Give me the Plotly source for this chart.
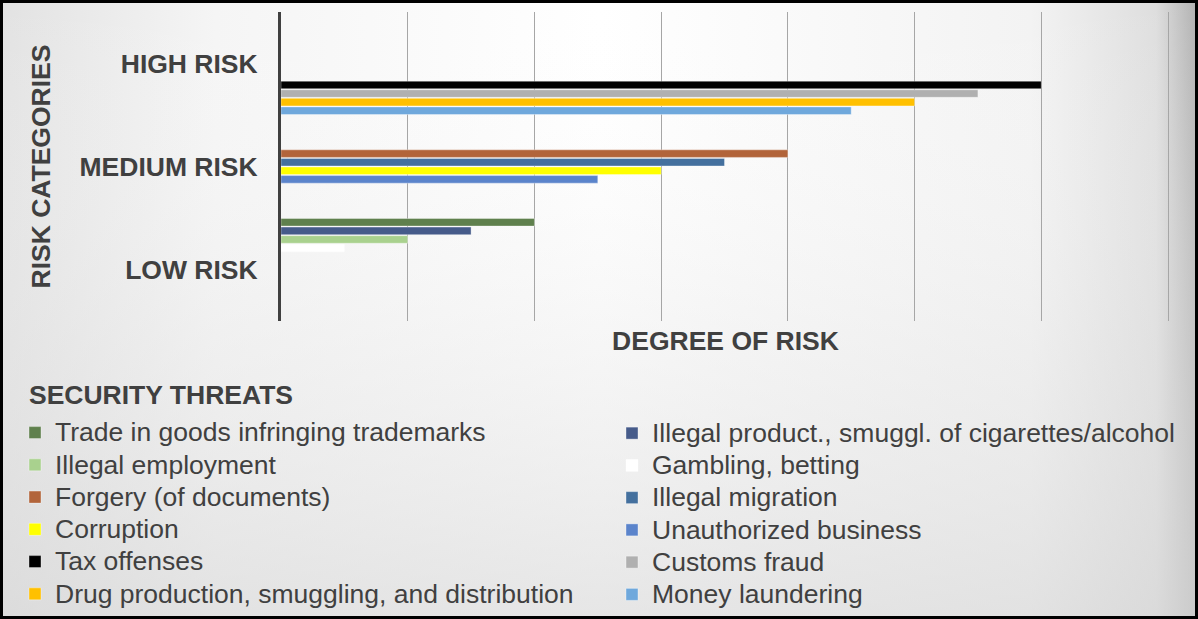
import base64
import plotly.graph_objects as go

# ---------------- data ----------------
categories = ["LOW RISK", "MEDIUM RISK", "HIGH RISK"]
threats = [
    "Trade in goods infringing trademarks",
    "Illegal product., smuggl. of cigarettes/alcohol",
    "Illegal employment",
    "Gambling, betting",
    "Forgery (of documents)",
    "Illegal migration",
    "Corruption",
    "Unauthorized business",
    "Tax offenses",
    "Customs fraud",
    "Drug production, smuggling, and distribution",
    "Money laundering",
]
risk_category = [
    "LOW RISK", "LOW RISK", "LOW RISK", "LOW RISK",
    "MEDIUM RISK", "MEDIUM RISK", "MEDIUM RISK", "MEDIUM RISK",
    "HIGH RISK", "HIGH RISK", "HIGH RISK", "HIGH RISK",
]
degree = [2, 1.5, 1, 0.5, 4, 3.5, 3, 2.5, 6, 5.5, 5, 4.5]
x_max = 7
colors = [
    "#5F804D", "#465B8A", "#A9D18E", "#FFFFFF",
    "#B2643A", "#44709E", "#FFFF00", "#5B84CB",
    "#000000", "#B0B0B0", "#FFC000", "#6FA8DC",
]

FONT = "Liberation Sans, Arial, sans-serif"
TXT = "#404040"
W, H = 1198, 619
L, R, T, B = 281, 28, 12, 298
PW, PH = W - L - R, H - T - B
# extend range by 2px so the last gridline (at x_max) is kept
x_hi = x_max * PW / (PW - 2)

fig = go.Figure()
# add in reverse so first series sits at the top of each category band
for i in reversed(range(len(threats))):
    fig.add_trace(go.Bar(
        x=[degree[i]], y=[risk_category[i]], orientation="h",
        name='<span style="font-size:26.5px">' + threats[i] + "</span>",
        marker=dict(color=colors[i], line=dict(color="rgba(255,255,255,0.45)", width=0.8)),
        legend="legend" if i % 2 == 0 else "legend2",
        legendrank=i,
        hoverinfo="skip",
    ))

# background (gradient panel with black frame)
svg = f'''<svg xmlns="http://www.w3.org/2000/svg" width="{W}" height="{H}" viewBox="0 0 {W} {H}">
<defs>
<linearGradient id="h" x1="0" y1="0" x2="1" y2="0">
<stop offset="0" stop-color="#e2e2e2"/><stop offset="0.18" stop-color="#f5f5f5"/>
<stop offset="0.5" stop-color="#ffffff"/><stop offset="0.86" stop-color="#f3f3f3"/>
<stop offset="0.965" stop-color="#dedede"/><stop offset="1" stop-color="#b0b0b0"/>
</linearGradient>
<linearGradient id="v" x1="0" y1="0" x2="0" y2="1">
<stop offset="0" stop-color="#ffffff" stop-opacity="0"/>
<stop offset="0.55" stop-color="#e6e6e6" stop-opacity="0.35"/>
<stop offset="1" stop-color="#d8d8d8" stop-opacity="0.65"/>
</linearGradient>
</defs>
<rect x="0" y="0" width="{W}" height="{H}" fill="url(#h)"/>
<rect x="0" y="0" width="{W}" height="{H}" fill="url(#v)"/>
<rect x="1.5" y="1.5" width="{W-3}" height="{H-3}" fill="none" stroke="#000" stroke-width="3"/>
</svg>'''
src = "data:image/svg+xml;base64," + base64.b64encode(svg.encode()).decode()

legend_title = ('&nbsp;<br>&nbsp;<br><span style="font-size:43px">&nbsp;</span>'
                '<span style="font-size:26.5px"><b>SECURITY THREATS</b></span><br>&nbsp;')

fig.update_layout(
    width=W, height=H,
    margin=dict(l=L, r=R, t=T, b=B, autoexpand=False),
    paper_bgcolor="#f2f2f2",
    plot_bgcolor="rgba(0,0,0,0)",
    barmode="group", bargap=0, bargroupgap=0.12,
    font=dict(family=FONT, color=TXT),
    images=[dict(source=src, xref="paper", yref="paper",
                 x=-L / PW, y=1 + T / PH, sizex=W / PW, sizey=H / PH,
                 xanchor="left", yanchor="top", sizing="stretch", layer="below")],
    xaxis=dict(range=[0, x_hi], dtick=1, showgrid=True, gridcolor="#A6A6A6", gridwidth=1,
               showticklabels=False, zeroline=False, showline=False, ticks="",
               title=dict(text="<b>DEGREE OF RISK</b>", font=dict(size=26.5, color=TXT), standoff=10)),
    yaxis=dict(type="category", categoryorder="array", categoryarray=categories,
               showline=True, linecolor="#404040", linewidth=3, showgrid=False, ticks="",
               ticklabelstandoff=15,
               tickfont=dict(size=26.5, color=TXT, family=FONT, weight="bold")),
    annotations=[dict(text="<b>RISK CATEGORIES</b>", textangle=-90,
                      xref="paper", yref="paper", x=(40 - L) / PW, y=0.5,
                      xanchor="center", yanchor="middle", showarrow=False,
                      font=dict(size=26.5, color=TXT))],
    legend=dict(xref="container", yref="container", x=15 / W, y=1 - 379.5 / H,
                xanchor="left", yanchor="top", orientation="v",
                bgcolor="rgba(0,0,0,0)", font=dict(size=22.5, color=TXT),
                title=dict(text=legend_title, font=dict(size=6.15, color=TXT), side="top"),
                traceorder="normal"),
    legend2=dict(xref="container", yref="container", x=612 / W, y=1 - 412 / H,
                 xanchor="left", yanchor="top", orientation="v",
                 bgcolor="rgba(0,0,0,0)", font=dict(size=22.5, color=TXT),
                 traceorder="normal"),
    showlegend=True,
)

fig.write_html("out.html")
